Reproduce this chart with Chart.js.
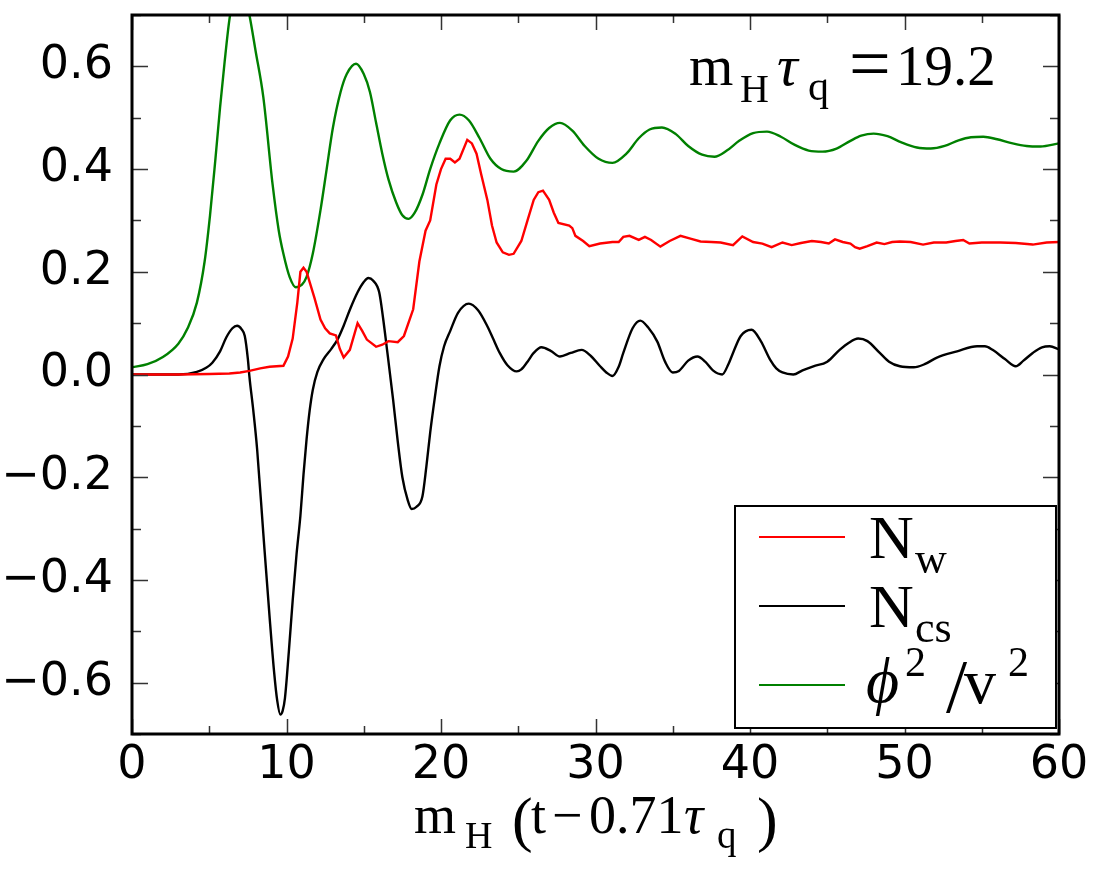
<!DOCTYPE html>
<html>
<head>
<meta charset="utf-8">
<script src="https://cdn.jsdelivr.net/npm/chart.js@4.4.1/dist/chart.umd.min.js"></script>
<style>
    body { margin: 0; background: #fff; }
    canvas { display: block; }
</style>
</head>
<body>
<canvas id="chartNcs" width="1105" height="873"></canvas>
<script>
// N_w (red)
const nwX = [0, 3, 5, 6.3, 7, 7.6, 8.3, 8.9, 9.8, 10.1, 10.4, 10.7, 10.9, 11.1, 11.3, 11.5, 11.8, 12.2, 12.5, 12.8, 13.2, 13.45, 13.7, 14.1, 14.6, 14.9, 15.2, 15.8, 16.2, 16.6, 17.2, 17.6, 18.2, 18.6, 19.0, 19.3, 19.7, 20.0, 20.3, 20.6, 20.9, 21.2, 21.7, 22.0, 22.3, 22.6, 23.0, 23.3, 23.6, 24.0, 24.4, 24.7, 25.2, 25.6, 26.0, 26.3, 26.6, 27.0, 27.3, 27.6, 28.3, 28.5, 28.7, 29.2, 29.6, 30.3, 31.1, 31.5, 31.8, 32.2, 32.8, 33.2, 33.6, 34.2, 34.8, 35.5, 36.2, 36.8, 37.5, 38.1, 38.9, 39.5, 40.2, 40.8, 41.4, 42.1, 42.7, 43.3, 44.0, 44.6, 45.1, 45.5, 46.0, 46.5, 46.8, 47.1, 47.6, 48.2, 48.7, 49.2, 49.7, 50.4, 51.2, 51.9, 52.7, 53.3, 53.8, 54.2, 55.0, 56.2, 57.2, 58.3, 59.2, 60];
const nwY = [0, 0, 0.001, 0.002, 0.004, 0.007, 0.012, 0.015, 0.017, 0.035, 0.07, 0.14, 0.2, 0.208, 0.2, 0.18, 0.15, 0.107, 0.09, 0.08, 0.076, 0.05, 0.033, 0.048, 0.1, 0.085, 0.068, 0.054, 0.058, 0.065, 0.063, 0.075, 0.127, 0.22, 0.28, 0.3, 0.37, 0.4, 0.42, 0.42, 0.413, 0.42, 0.457, 0.45, 0.43, 0.39, 0.34, 0.29, 0.257, 0.238, 0.233, 0.235, 0.26, 0.3, 0.34, 0.355, 0.358, 0.34, 0.315, 0.295, 0.29, 0.285, 0.27, 0.26, 0.25, 0.255, 0.258, 0.258, 0.268, 0.27, 0.262, 0.268, 0.262, 0.249, 0.26, 0.27, 0.264, 0.259, 0.258, 0.257, 0.252, 0.269, 0.258, 0.255, 0.248, 0.257, 0.252, 0.256, 0.26, 0.258, 0.255, 0.263, 0.258, 0.255, 0.248, 0.245, 0.25, 0.257, 0.254, 0.258, 0.259, 0.258, 0.253, 0.257, 0.257, 0.26, 0.262, 0.255, 0.257, 0.257, 0.256, 0.253, 0.257, 0.258];

// N_cs (black)
const ncsX = [0, 3, 4.2, 4.8, 5.2, 5.7, 6.1, 6.5, 6.8, 7.1, 7.3, 7.5, 7.6, 7.85, 8.1, 8.5, 8.9, 9.2, 9.4, 9.6, 9.75, 9.9, 10.15, 10.4, 10.65, 10.9, 11.1, 11.3, 11.5, 11.7, 12.0, 12.4, 12.9, 13.3, 13.7, 14.1, 14.6, 15.0, 15.3, 15.6, 16.0, 16.25, 16.5, 16.9, 17.2, 17.5, 17.85, 18.1, 18.4, 18.8, 19.05, 19.3, 19.6, 19.9, 20.2, 20.6, 21.1, 21.8, 22.4, 23.0, 23.4, 23.8, 24.3, 24.9, 25.2, 25.6, 26.0, 26.5, 27.1, 27.7, 28.4, 29.1, 29.7, 30.3, 30.7, 31.1, 31.5, 31.8, 32.4, 32.9, 33.4, 34.0, 34.5, 35.0, 35.4, 36.0, 36.6, 37.1, 37.6, 38.2, 38.6, 38.9, 39.4, 40.1, 40.7, 41.3, 41.7, 42.1, 42.8, 43.4, 44.1, 45.0, 45.8, 46.4, 47.0, 47.6, 48.4, 49.0, 49.7, 50.6, 51.3, 52.1, 53.4, 54.7, 55.2, 55.7, 56.5, 57.2, 57.7, 58.3, 58.9, 59.4, 60];
const ncsY = [0, 0, 0.005, 0.013, 0.023, 0.045, 0.072, 0.09, 0.095, 0.088, 0.075, 0.03, -0.004, -0.07, -0.146, -0.31, -0.47, -0.58, -0.635, -0.662, -0.655, -0.63, -0.54, -0.44, -0.35, -0.275, -0.195, -0.126, -0.07, -0.03, 0.005, 0.03, 0.05, 0.068, 0.095, 0.126, 0.16, 0.18, 0.188, 0.183, 0.16, 0.11, 0.05, -0.049, -0.13, -0.2, -0.245, -0.262, -0.258, -0.237, -0.18, -0.113, -0.045, 0.016, 0.055, 0.085, 0.12, 0.138, 0.125, 0.094, 0.068, 0.042, 0.018, 0.006, 0.01, 0.025, 0.042, 0.053, 0.046, 0.035, 0.042, 0.048, 0.036, 0.016, 0.004, -0.003, 0.015, 0.042, 0.09, 0.105, 0.092, 0.064, 0.025, 0.004, 0.007, 0.027, 0.035, 0.025, 0.008, 0.0, 0.02, 0.042, 0.075, 0.087, 0.065, 0.029, 0.012, 0.004, 0.0, 0.008, 0.016, 0.025, 0.048, 0.062, 0.07, 0.065, 0.042, 0.025, 0.016, 0.014, 0.02, 0.033, 0.045, 0.055, 0.055, 0.048, 0.03, 0.016, 0.027, 0.042, 0.053, 0.055, 0.049];

// phi^2 / v^2 (green)
const phiX = [0, 1, 2, 3, 3.6, 4.2, 4.7, 5.05, 5.4, 5.7, 6.0, 6.3, 6.6, 6.95, 7.3, 7.6, 8.0, 8.5, 9.1, 9.5, 9.8, 10.2, 10.6, 11.0, 11.3, 11.7, 12.2, 12.6, 13.0, 13.5, 13.9, 14.5, 15.0, 15.4, 15.8, 16.2, 16.6, 17.1, 17.5, 17.9, 18.3, 18.8, 19.3, 19.9, 20.6, 21.2, 21.8, 22.5, 23.2, 23.9, 24.7, 25.5, 26.3, 27.0, 27.7, 28.5, 29.3, 30.2, 31.1, 32.0, 32.8, 33.5, 34.3, 35.2, 36.0, 36.9, 37.7, 38.5, 39.3, 40.2, 41.1, 42.0, 42.9, 43.8, 44.7, 45.6, 46.5, 47.2, 48.0, 48.9, 49.8, 50.8, 51.7, 52.6, 53.5, 54.3, 55.1, 56.0, 57.0, 57.9, 58.8, 60];
const phiY = [0.014, 0.02, 0.034, 0.06, 0.09, 0.14, 0.22, 0.31, 0.42, 0.52, 0.61, 0.69, 0.74, 0.76, 0.74, 0.70, 0.63, 0.54, 0.37, 0.28, 0.235, 0.19, 0.17, 0.175, 0.19, 0.235, 0.32, 0.40, 0.48, 0.55, 0.585, 0.605, 0.585, 0.55, 0.49, 0.43, 0.38, 0.335, 0.31, 0.303, 0.315, 0.35, 0.40, 0.45, 0.495, 0.506, 0.495, 0.46, 0.42, 0.40, 0.395, 0.415, 0.455, 0.48, 0.49, 0.475, 0.445, 0.42, 0.412, 0.43, 0.46, 0.477, 0.481, 0.468, 0.445, 0.428, 0.424, 0.436, 0.455, 0.47, 0.473, 0.463, 0.447, 0.436, 0.434, 0.44, 0.455, 0.465, 0.469, 0.464, 0.452, 0.442, 0.44, 0.445, 0.456, 0.462, 0.463, 0.458, 0.45, 0.445, 0.444, 0.45];

const seriesColors = ['#ff0000', '#000000', '#008000'];

const toPoints = (xs, ys) => xs.map((x, i) => ({ x: x, y: ys[i] }));

const mathFont = (size, italic) => (italic ? 'italic ' : '') + size + 'px "Liberation Serif", "DejaVu Serif", serif';

// draw a list of [text, x, y, size, italic] pieces
function drawPieces(ctx, pieces) {
    ctx.fillStyle = '#000';
    ctx.textAlign = 'left';
    ctx.textBaseline = 'alphabetic';
    pieces.forEach(p => {
        ctx.font = mathFont(p[3], p[4]);
        ctx.fillText(p[0], p[1], p[2]);
    });
}

const framePlugin = {
    id: 'frame_ticks_text',
    afterDraw: (chart) => {
        const ctx = chart.ctx;
        const a = chart.chartArea;
        const xs = chart.scales.x;
        const ys = chart.scales.y;
        ctx.save();

        // inward tick marks on all four sides
        ctx.strokeStyle = '#333';
        ctx.lineWidth = 1.5;
        ctx.beginPath();
        for (let v = 0; v <= 60; v += 5) {
            const px = Math.round(xs.getPixelForValue(v)) + 0.5;
            const len = v % 10 === 0 ? 15 : 8;
            ctx.moveTo(px, a.bottom); ctx.lineTo(px, a.bottom - len);
            ctx.moveTo(px, a.top); ctx.lineTo(px, a.top + len);
        }
        for (let k = -7; k <= 7; k++) {
            const py = Math.round(ys.getPixelForValue(k / 10)) + 0.5;
            const len = k % 2 === 0 ? 16 : 9;
            ctx.moveTo(a.left, py); ctx.lineTo(a.left + len, py);
            ctx.moveTo(a.right, py); ctx.lineTo(a.right - len, py);
        }
        ctx.stroke();

        // frame
        ctx.strokeStyle = '#000';
        ctx.lineWidth = 3;
        ctx.strokeRect(a.left, a.top, a.right - a.left, a.bottom - a.top);

        // legend box
        ctx.fillStyle = '#fff';
        ctx.fillRect(735, 506, 321, 222);
        ctx.lineWidth = 2;
        ctx.strokeRect(735, 506, 321, 222);
        const rows = [537, 606, 685];
        chart.data.datasets.forEach((ds, i) => {
            ctx.strokeStyle = ds.borderColor;
            ctx.lineWidth = 2;
            ctx.beginPath();
            ctx.moveTo(759, rows[i]);
            ctx.lineTo(845, rows[i]);
            ctx.stroke();
        });
        drawPieces(ctx, [
            ['N', 869, 558, 62, false],
            ['w', 915, 573, 44, false],
            ['N', 869, 627, 62, false],
            ['cs', 915, 642, 44, false],
            ['\u03d5', 866, 702, 64, true],
            ['2', 905, 676, 42, false],
            ['/', 946, 712, 76, false],
            ['v', 964, 703, 64, false],
            ['2', 1008, 676, 42, false]
        ]);

        // annotation
        drawPieces(ctx, [
            ['m', 689, 85, 57, false],
            ['H', 740, 102, 40, false],
            ['\u03c4', 777, 85, 58, true],
            ['q', 808, 100, 42, false],
            ['=', 849, 88, 74, false],
            ['19.2', 896, 85, 57, false]
        ]);

        // x axis title
        drawPieces(ctx, [
            ['m', 414, 833, 54, false],
            ['H', 465, 848, 38, false],
            ['(', 512, 840, 62, false],
            ['t', 531, 833, 54, false],
            ['\u2212', 552, 833, 54, false],
            ['0.71', 589, 833, 54, false],
            ['\u03c4', 684, 833, 54, true],
            ['q', 717, 848, 39, false],
            [')', 757, 840, 62, false]
        ]);
        ctx.restore();
    }
};

const tickFont = { family: 'DejaVu Sans', size: 46 };

const config = {
    type: 'scatter',
    data: {
        datasets: [{
            label: 'N_w',
            data: toPoints(nwX, nwY),
            borderColor: seriesColors[0],
            borderWidth: 2.4,
            showLine: true,
            pointRadius: 0,
            tension: 0
        }, {
            label: 'N_cs',
            data: toPoints(ncsX, ncsY),
            borderColor: seriesColors[1],
            borderWidth: 2.4,
            showLine: true,
            pointRadius: 0,
            cubicInterpolationMode: 'monotone'
        }, {
            label: 'phi^2/v^2',
            data: toPoints(phiX, phiY),
            borderColor: seriesColors[2],
            borderWidth: 2.4,
            showLine: true,
            pointRadius: 0,
            cubicInterpolationMode: 'monotone'
        }]
    },
    options: {
        responsive: false,
        animation: false,
        devicePixelRatio: 1,
        layout: { padding: { top: 15, right: 46, left: 0, bottom: 0 } },
        plugins: {
            legend: { display: false },
            tooltip: { enabled: false }
        },
        scales: {
            x: {
                type: 'linear',
                min: 0,
                max: 60,
                grid: { display: false, drawTicks: false },
                border: { display: false },
                ticks: {
                    stepSize: 5,
                    autoSkip: false,
                    maxRotation: 0,
                    padding: 4,
                    color: '#000',
                    font: tickFont,
                    callback: (v) => (v % 10 === 0 ? String(v) : null)
                },
                afterFit: (scale) => {
                    scale.height = 139;
                    scale.paddingLeft = 0;
                    scale.paddingRight = 0;
                }
            },
            y: {
                type: 'linear',
                min: -0.7,
                max: 0.7,
                grid: { display: false, drawTicks: false },
                border: { display: false },
                ticks: {
                    stepSize: 0.1,
                    autoSkip: false,
                    padding: 19,
                    color: '#000',
                    font: tickFont,
                    callback: (v) => {
                        const k = Math.round(v * 10);
                        if (k % 2 !== 0) return null;
                        return (k / 10).toFixed(1).replace('-', '\u2212');
                    }
                },
                afterFit: (scale) => {
                    scale.width = 132;
                    scale.paddingTop = 0;
                    scale.paddingBottom = 0;
                }
            }
        }
    },
    plugins: [framePlugin]
};

let chartNcs = new Chart(document.getElementById('chartNcs'), config);
</script>
</body>
</html>
